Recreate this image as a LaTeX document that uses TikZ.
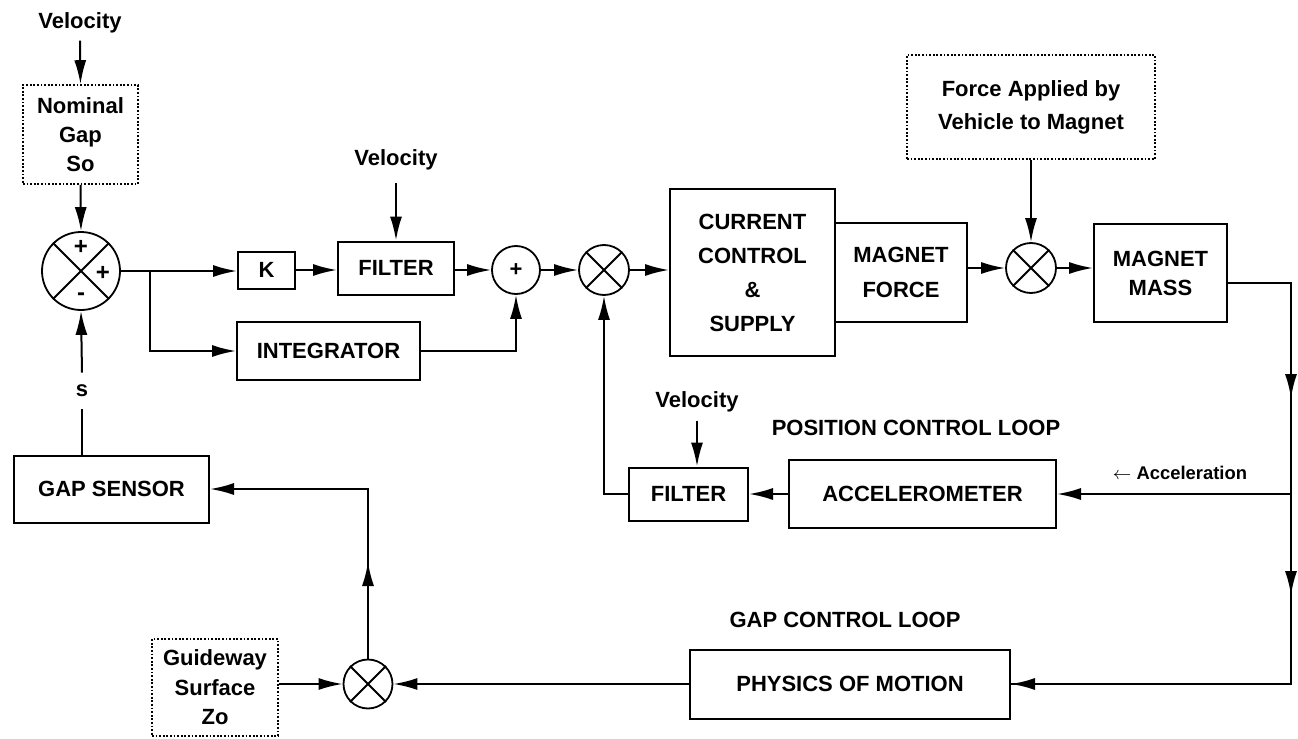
\documentclass[tikz,border=0pt]{standalone}
\usepackage{fontspec}
\setmainfont{Liberation Sans}
\usetikzlibrary{arrows.meta}
\newcommand\lblfont{\bfseries\fontsize{11}{14}\selectfont}
\begin{document}
\begin{tikzpicture}[x=0.5pt,y=-0.5pt,
  wire/.style={line width=1pt},
  flow/.style={wire,-{Latex[length=12pt,width=6pt]}},
  blk/.style={draw,line width=1pt,align=center,inner sep=0pt,font=\lblfont},
  dotbox/.style={draw,line width=0.8pt,dash pattern=on 0.9pt off 0.9pt,align=center,inner sep=0pt,font=\lblfont},
  junc/.style={draw,circle,line width=0.9pt,inner sep=0pt},
  lbl/.style={inner sep=0pt,font=\lblfont},
  vlbl/.style={inner xsep=0pt,inner ysep=3.5pt,font=\lblfont}]
\useasboundingbox (0,0) rectangle (1298,739);

% ---------------- gap loop, upper left ----------------
\node[vlbl] (vel1) at (80,23) {Velocity};
\node[dotbox,minimum width=57.5pt,minimum height=49.5pt,
      font=\bfseries\fontsize{11}{14.5}\selectfont] (nom) at (80.5,134.5) {Nominal\\Gap\\So};
\node[junc,minimum size=39pt] (sum) at (81,271) {};
\draw[line width=0.9pt] (sum.north west) -- (sum.south east) (sum.north east) -- (sum.south west);
\node[lbl,font=\bfseries\fontsize{12}{14}\selectfont] (sgn1) at (81,247) {+};
\node[lbl,font=\bfseries\fontsize{12}{14}\selectfont] (sgn2) at (103,273) {+};
\node[lbl,font=\bfseries\fontsize{12}{14}\selectfont] (sgn3) at (81,297) {-};

\node[blk,minimum width=28.5pt,minimum height=18.5pt] (K) at (266.5,270) {K};
\node[vlbl,inner ysep=6pt] (vel2) at (396,160) {Velocity};
\node[blk,minimum width=58pt,minimum height=26.5pt] (filt1) at (396,268) {FILTER};
\node[blk,minimum width=91.5pt,minimum height=29pt] (integ) at (328.5,351) {INTEGRATOR};
\node[junc,minimum size=24pt] (plus) at (516,270) {};
\node[lbl] (plussign) at (516,270) {+};
\node[junc,minimum size=25pt] (x2) at (604,270) {};
\draw[line width=0.9pt] (x2.north west) -- (x2.south east) (x2.north east) -- (x2.south west);

\coordinate (br) at (150,271);
\draw[flow] (vel1.south) -- (nom.north);
\draw[flow] (nom.south) -- (sum.north);
\draw[wire] (sum.east) -- (br);
\draw[flow] (br) -- (br -| K.west);
\draw[flow] (br) |- (integ.west);
\draw[flow] (K.east) -- (K.east -| filt1.west);
\draw[flow] (vel2.south) -- (filt1.north);
\draw[flow] (filt1.east |- plus.west) -- (plus.west);
\draw[flow] (integ.east) -| (plus.south);
\draw[flow] (plus.east) -- (x2.west);

% ---------------- magnet chain ----------------
\node[blk,minimum width=82.5pt,minimum height=83.5pt,
      font=\bfseries\fontsize{11}{17}\selectfont] (ccs) at (752.5,272.5) {CURRENT\\CONTROL\\\&\\SUPPLY};
\node[blk,minimum width=66pt,minimum height=49.5pt,
      font=\bfseries\fontsize{11}{17.5}\selectfont] (mf) at (901,272.5) {MAGNET\\FORCE};
\node[dotbox,minimum width=124pt,minimum height=52pt,
      font=\bfseries\fontsize{11}{16.5}\selectfont] (force) at (1031,107) {Force Applied by\\Vehicle to Magnet};
\node[junc,minimum size=25pt] (x3) at (1031,268) {};
\draw[line width=0.9pt] (x3.north west) -- (x3.south east) (x3.north east) -- (x3.south west);
\node[blk,minimum width=66.5pt,minimum height=49pt,
      font=\bfseries\fontsize{11}{14.5}\selectfont] (mm) at (1160.5,273) {MAGNET\\MASS};

\draw[flow] (x2.east) -- (x2.east -| ccs.west);
\draw[flow] (x3.west -| mf.east) -- (x3.west);
\draw[flow] (force.south) -- (x3.north);
\draw[flow] (x3.east) -- (x3.east -| mm.west);

% ---------------- position and gap loop blocks ----------------
\node[lbl] (poscl) at (916,428) {POSITION CONTROL LOOP};
\node[blk,minimum width=133.5pt,minimum height=34pt] (acc) at (922.5,494) {ACCELEROMETER};
\node[blk,minimum width=59.5pt,minimum height=26.5pt] (filt2) at (688.5,494) {FILTER};
\node[vlbl,inner ysep=4pt] (vel3) at (697,402) {Velocity};
\node[lbl,font=\bfseries\fontsize{9.2}{11}\selectfont] (acclbl) at (1180,473) {$\leftarrow$\ Acceleration};

\node[lbl] (gapcl) at (845,620) {GAP CONTROL LOOP};
\node[blk,minimum width=160pt,minimum height=34.5pt] (phys) at (850,684) {PHYSICS OF MOTION};
\node[junc,minimum size=24.5pt] (x4) at (368,684) {};
\draw[line width=0.9pt] (x4.north west) -- (x4.south east) (x4.north east) -- (x4.south west);
\node[dotbox,minimum width=63pt,minimum height=48.5pt,
      font=\bfseries\fontsize{11}{14.75}\selectfont] (guide) at (215,687.5) {Guideway\\Surface\\Zo};
\node[blk,minimum width=97.5pt,minimum height=33.5pt] (gs) at (111.5,489) {GAP SENSOR};
\node[lbl,inner ysep=6pt] (s) at (82,391) {s};

% main output line down the right-hand side, with arrowheads laid over it
\coordinate (o1) at (1291,283);
\coordinate (m1) at (1291,398);
\coordinate (o2) at (1291,494);
\coordinate (m2) at (1291,595);
\draw[wire] (mm.east |- o1) -- (o1) -- (o1 |- phys.east) -- (phys.east);
\draw[flow] (o1) -- (m1);
\draw[flow] (o2) -- (m2);
\draw[flow] (o1 |- phys.east) -- (phys.east);
\draw[flow] (o2) -- (o2 -| acc.east);
\draw[flow] (acc.west) -- (filt2.east);
\draw[flow] (vel3.south) -- (vel3.south |- filt2.north);
\draw[flow] (filt2.west) -| (x2.south);

% gap feedback path
\coordinate (m4) at (368,562);
\draw[flow] (phys.west) -- (x4.east);
\draw[flow] (guide.east |- x4.west) -- (x4.west);
\draw[flow] (x4.north) |- (gs.east);
\draw[flow] (x4.north) -- (m4);
\draw[wire] (s.south |- gs.north) -- (s.south);
\draw[flow] (s.north) -- (sum.south);
\end{tikzpicture}
\end{document}
